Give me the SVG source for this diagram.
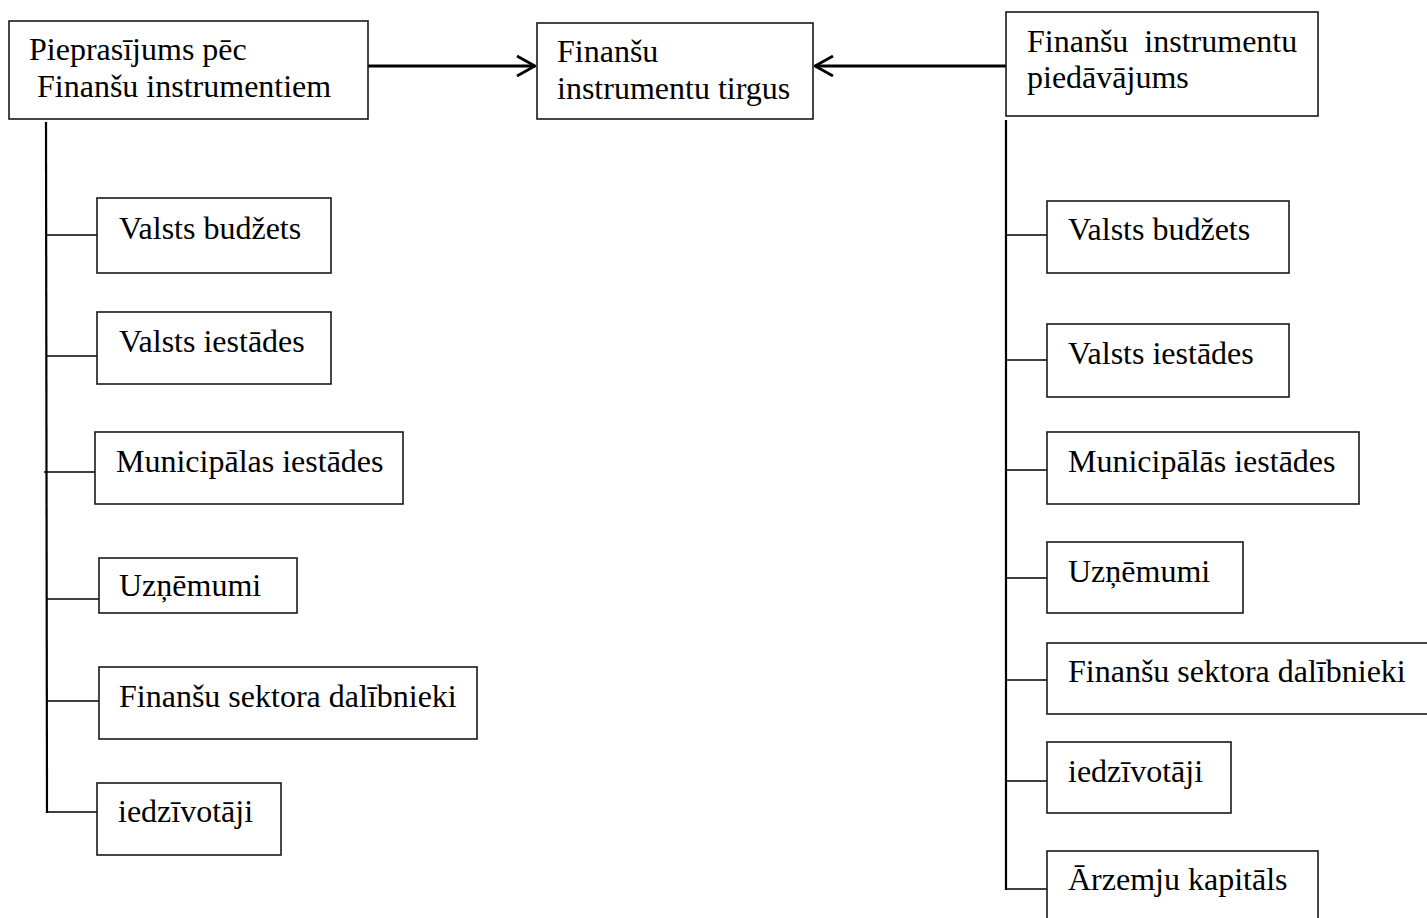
<svg xmlns="http://www.w3.org/2000/svg" width="1427" height="918" viewBox="0 0 1427 918">
<style>
.box{fill:#fff;stroke:#1a1a1a;stroke-width:1.6}
.t{font-family:"Liberation Serif","Times New Roman",serif;font-size:32px;fill:#000}
.ln{stroke:#000;stroke-width:2.2;fill:none}
.br{stroke:#000;stroke-width:1.7;fill:none}
.ar{stroke:#000;stroke-width:2.8;fill:none}
</style>
<defs>
<marker id="open" viewBox="0 0 20 22" refX="19" refY="11" markerWidth="20" markerHeight="22" markerUnits="userSpaceOnUse" orient="auto">
<path d="M1,1 L19,11 L1,21" fill="none" stroke="#000" stroke-width="2.8"/>
</marker>
</defs>
<rect width="1427" height="918" fill="#fff"/>
<g id="connectors">
<line class="ar" x1="368" y1="66" x2="535" y2="66" marker-end="url(#open)"/>
<line class="ar" x1="1006" y1="66" x2="815" y2="66" marker-end="url(#open)"/>
<line class="ln" x1="46" y1="122" x2="47" y2="813"/>
<line class="br" x1="46" y1="235" x2="97" y2="235"/>
<line class="br" x1="46" y1="356" x2="97" y2="356"/>
<line class="br" x1="44" y1="472" x2="95" y2="472"/>
<line class="br" x1="46" y1="599" x2="99" y2="599"/>
<line class="br" x1="47" y1="701" x2="99" y2="701"/>
<line class="br" x1="47" y1="812" x2="97" y2="812"/>
<line class="ln" x1="1006" y1="120" x2="1006" y2="890"/>
<line class="br" x1="1006" y1="235" x2="1047" y2="235"/>
<line class="br" x1="1006" y1="360" x2="1047" y2="360"/>
<line class="br" x1="1006" y1="470" x2="1047" y2="470"/>
<line class="br" x1="1006" y1="578" x2="1047" y2="578"/>
<line class="br" x1="1006" y1="680" x2="1047" y2="680"/>
<line class="br" x1="1006" y1="781" x2="1047" y2="781"/>
<line class="br" x1="1006" y1="889" x2="1047" y2="889"/>
</g>
<g id="demand">
<rect class="box" x="9" y="21" width="359" height="98"/>
<text class="t" x="29" y="60">Pieprasījums pēc</text>
<text class="t" x="37" y="97">Finanšu instrumentiem</text>
</g>
<g id="market">
<rect class="box" x="537" y="23" width="276" height="96"/>
<text class="t" x="557" y="62">Finanšu</text>
<text class="t" x="557" y="99">instrumentu tirgus</text>
</g>
<g id="supply">
<rect class="box" x="1006" y="12" width="312" height="104"/>
<text class="t" x="1027" y="52" xml:space="preserve">Finanšu  instrumentu</text>
<text class="t" x="1027" y="88">piedāvājums</text>
</g>
<g id="d-budzets">
<rect class="box" x="97" y="198" width="234" height="75"/>
<text class="t" x="119" y="239">Valsts budžets</text>
</g>
<g id="d-iestades">
<rect class="box" x="97" y="312" width="234" height="72"/>
<text class="t" x="119" y="352">Valsts iestādes</text>
</g>
<g id="d-municipalas">
<rect class="box" x="95" y="432" width="308" height="72"/>
<text class="t" x="116" y="472">Municipālas iestādes</text>
</g>
<g id="d-uznemumi">
<rect class="box" x="99" y="558" width="198" height="55"/>
<text class="t" x="119" y="596">Uzņēmumi</text>
</g>
<g id="d-finansu-sektors">
<rect class="box" x="99" y="667" width="378" height="72"/>
<text class="t" x="119" y="707">Finanšu sektora dalībnieki</text>
</g>
<g id="d-iedzivotaji">
<rect class="box" x="97" y="783" width="184" height="72"/>
<text class="t" x="118" y="822">iedzīvotāji</text>
</g>
<g id="s-budzets">
<rect class="box" x="1047" y="201" width="242" height="72"/>
<text class="t" x="1068" y="240">Valsts budžets</text>
</g>
<g id="s-iestades">
<rect class="box" x="1047" y="324" width="242" height="73"/>
<text class="t" x="1068" y="364">Valsts iestādes</text>
</g>
<g id="s-municipalas">
<rect class="box" x="1047" y="432" width="312" height="72"/>
<text class="t" x="1068" y="472">Municipālās iestādes</text>
</g>
<g id="s-uznemumi">
<rect class="box" x="1047" y="542" width="196" height="71"/>
<text class="t" x="1068" y="582">Uzņēmumi</text>
</g>
<g id="s-finansu-sektors">
<rect class="box" x="1047" y="643" width="384" height="71"/>
<text class="t" x="1068" y="682">Finanšu sektora dalībnieki</text>
</g>
<g id="s-iedzivotaji">
<rect class="box" x="1047" y="742" width="184" height="71"/>
<text class="t" x="1068" y="782">iedzīvotāji</text>
</g>
<g id="s-arzemju">
<rect class="box" x="1047" y="851" width="271" height="80"/>
<text class="t" x="1068" y="890">Ārzemju kapitāls</text>
</g>
</svg>
